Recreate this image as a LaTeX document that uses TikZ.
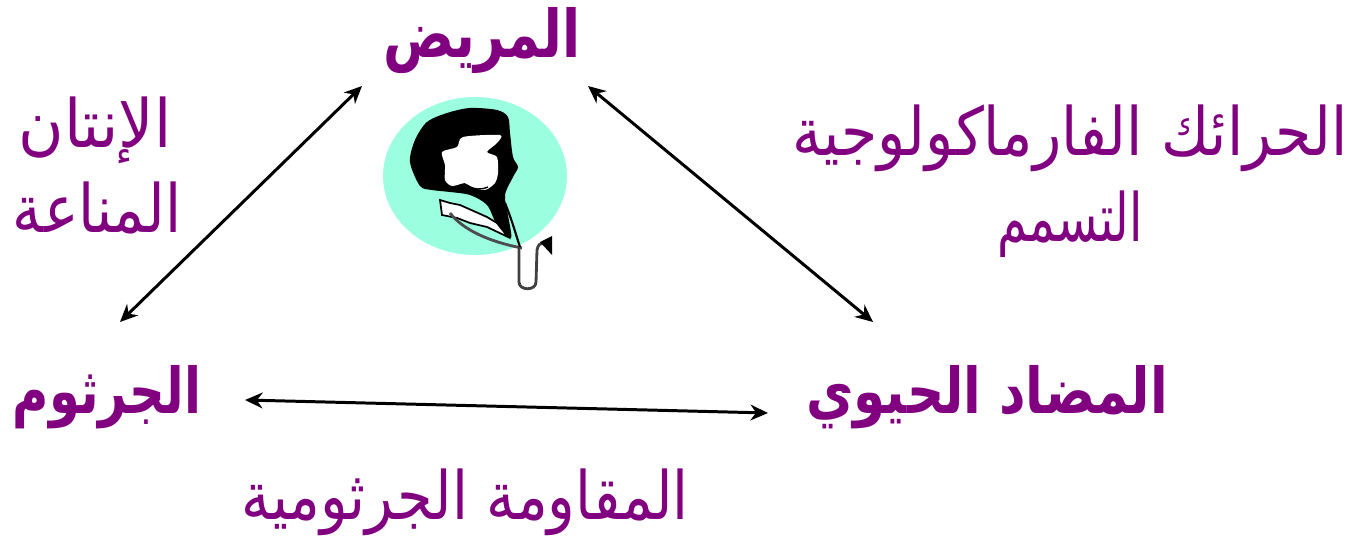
\documentclass[tikz,border=0pt]{standalone}
\usepackage{fontspec}
\usepackage{graphicx}
\usetikzlibrary{arrows.meta}
\TeXXeTstate=1
\newfontfamily\arabicfont[Script=Arabic]{DejaVu Sans}
\definecolor{labelpurple}{RGB}{128,0,128}
\definecolor{mint}{RGB}{155,255,223}
\tikzset{
  heading/.style={text=labelpurple, font=\arabicfont\bfseries\fontsize{30}{36}\selectfont, inner sep=0pt},
  caption/.style={text=labelpurple, font=\arabicfont\fontsize{33}{40}\selectfont, inner sep=0pt},
  link/.style={line width=1.7pt, {Stealth[length=10pt,width=9pt]}-{Stealth[length=10pt,width=9pt]}},
}
\begin{document}
\begin{tikzpicture}[x=0.02cm, y=-0.02cm]
\useasboundingbox (0,0) rectangle (1365,540);

% corner headings
\node[heading] (patient) at (482,41) {\scalebox{1}[1.25]{\beginR المريض\endR}};
\node[heading] (germ) at (107,397) {\scalebox{0.94}[1.2]{\beginR الجرثوم\endR}};
\node[heading] (drug) at (987,397) {\scalebox{0.98}[1.2]{\beginR المضاد الحيوي\endR}};

% relation captions
\node[caption] (inf1) at (95,130) {\scalebox{1.07}[1.15]{\beginR الإنتان\endR}};
\node[caption] (inf2) at (97,208) {\scalebox{1}[1.15]{\beginR المناعة\endR}};
\node[caption] (pk1) at (1070,138) {\scalebox{1.01}[1.15]{\beginR الحرائك الفارماكولوجية\endR}};
\node[caption] (pk2) at (1070,224) {\scalebox{0.83}[1.15]{\beginR التسمم\endR}};
\node[caption] (res) at (465,502) {\scalebox{0.99}[1.15]{\beginR المقاومة الجرثومية\endR}};

% arrow end points
\coordinate (pA) at (362,86);
\coordinate (gA) at (120,322);
\coordinate (pB) at (588,86);
\coordinate (dB) at (873,322);
\coordinate (gC) at (245,400);
\coordinate (dC) at (768,413);
\draw[link] (gA) -- (pA);
\draw[link] (pB) -- (dB);
\draw[link] (gC) -- (dC);

% doctor icon
\fill[mint] (475,176) ellipse [x radius=92, y radius=79];
% hair
\fill[black] plot[smooth cycle, tension=0.5] coordinates {
  (410,162) (415,140) (427,122) (447,113) (470,108) (497,110) (508,117)
  (510,133) (513,157) (518,167) (513,177) (505,195) (508,215) (511,238)
  (497,225) (487,205) (470,195) (450,192) (432,190) (420,186)};
% face
\fill[white] plot[smooth cycle, tension=0.45] coordinates {
  (442,152) (457,147) (463,137) (500,135) (497,143) (487,152) (497,157)
  (498,173) (495,183) (485,190) (470,187) (465,183) (452,186) (445,180) (445,165)};
\draw[black, line width=0.8pt] (467,185) .. controls (474,190) and (482,190) .. (488,187);
% collar
\filldraw[fill=white, draw=black, line width=1pt]
  (440,200) -- (442,215) -- (457,218) -- (470,223) -- (487,227) -- (508,237)
  -- (497,223) -- (487,217) -- (460,205) -- (450,203) -- cycle;
% stethoscope
\draw[black!70, line width=1.6pt] (450,213) .. controls (463,230) and (490,242) .. (522,248);
\draw[black, line width=1.2pt] (505,203) .. controls (512,220) and (516,235) .. (520,247);
\draw[black!75, line width=1.6pt] (519,247) -- (519,282) .. controls (519,291) and (536,291) .. (536,282)
  -- (537,250) .. controls (538,245) and (540,243) .. (543,243);
\fill[black] (540,242) -- (552,236) -- (552,255) -- cycle;
\end{tikzpicture}
\end{document}
